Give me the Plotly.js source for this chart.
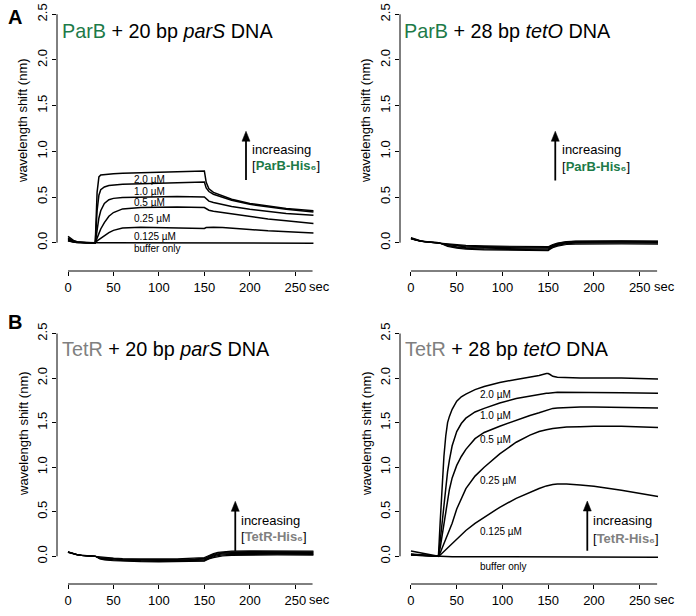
<!DOCTYPE html>
<html><head><meta charset="utf-8">
<script src="https://cdn.plot.ly/plotly-3.0.1.min.js"></script>
<style>html,body{margin:0;padding:0;background:#fff}</style>
</head><body><div id="chart" style="width:696px;height:616px"></div>
<script>
// ---------- data ----------
const concentrations = ["2.0 µM","1.0 µM","0.5 µM","0.25 µM","0.125 µM","buffer only"];
const xTickVals = [0,50,100,150,200,250];
const yTickVals = [0,0.5,1,1.5,2,2.5];
const yTickText = ["0.0","0.5","1.0","1.5","2.0","2.5"];

// Panel A left: ParB + 20 bp parS
const timeParBParS = [0,3,6,10,15,20,25,30,32,34,36,40,45,50,60,80,100,120,150,152,155,160,170,180,200,220,240,270];
const parBParS_2_0   = [0.07,0.042,0.025,0.01,0.003,0,0,0,0.55,0.72,0.74,0.745,0.75,0.755,0.76,0.765,0.77,0.775,0.785,0.66,0.59,0.55,0.51,0.475,0.43,0.40,0.375,0.35];
const parBParS_1_0   = [0.05,0.03,0.018,0.008,0.002,0,0,0,0.35,0.52,0.58,0.61,0.625,0.63,0.64,0.645,0.65,0.655,0.665,0.60,0.56,0.53,0.495,0.465,0.42,0.39,0.365,0.335];
const parBParS_0_5   = [0.04,0.024,0.014,0.006,0.002,0,0,0,0.15,0.27,0.35,0.43,0.47,0.485,0.495,0.50,0.505,0.505,0.50,0.48,0.455,0.44,0.415,0.395,0.365,0.34,0.32,0.30];
const parBParS_0_25  = [0.03,0.018,0.01,0.004,0.001,0,0,0,0.05,0.10,0.15,0.22,0.29,0.33,0.37,0.385,0.39,0.39,0.385,0.37,0.355,0.345,0.33,0.315,0.285,0.26,0.24,0.21];
const parBParS_0_125 = [0.02,0.012,0.007,0.003,0.001,0,0,0,0.02,0.035,0.05,0.08,0.11,0.135,0.16,0.17,0.165,0.16,0.155,0.165,0.17,0.17,0.165,0.16,0.145,0.13,0.12,0.105];
const parBParS_buf   = [0.02,0.012,0.007,0.003,0.001,0,0,0,0,0,0,0,0,0,0,0,0,0,0,-0.005,-0.005,-0.005,-0.005,-0.005,-0.005,-0.005,-0.005,-0.005];

// Panel A right: ParB + 28 bp tetO
const timeParBTetO = [0,5,10,15,20,25,30,35,40,50,60,80,100,120,140,150,152,155,160,165,170,180,200,230,270];
const parBTetO_2_0   = [0.055,0.035,0.022,0.013,0.008,0.004,0,-0.02,-0.04,-0.06,-0.07,-0.078,-0.082,-0.084,-0.085,-0.086,-0.072,-0.055,-0.038,-0.027,-0.02,-0.015,-0.013,-0.013,-0.015];
const parBTetO_1_0   = [0.05,0.032,0.02,0.012,0.007,0.003,0,-0.017,-0.034,-0.052,-0.062,-0.07,-0.074,-0.076,-0.077,-0.078,-0.065,-0.048,-0.03,-0.018,-0.01,-0.005,-0.003,-0.003,-0.005];
const parBTetO_0_5   = [0.05,0.03,0.019,0.011,0.006,0.003,0,-0.014,-0.028,-0.045,-0.054,-0.061,-0.065,-0.067,-0.068,-0.069,-0.057,-0.04,-0.022,-0.01,-0.002,0.003,0.005,0.005,0.003];
const parBTetO_0_25  = [0.045,0.028,0.018,0.01,0.006,0.002,0,-0.011,-0.022,-0.037,-0.046,-0.052,-0.055,-0.057,-0.058,-0.059,-0.048,-0.032,-0.015,-0.004,0.004,0.009,0.011,0.011,0.009];
const parBTetO_0_125 = [0.045,0.027,0.017,0.01,0.005,0.002,0,-0.008,-0.017,-0.03,-0.038,-0.044,-0.047,-0.049,-0.05,-0.051,-0.041,-0.026,-0.01,0.002,0.009,0.014,0.016,0.016,0.014];
const parBTetO_buf   = [0.04,0.025,0.016,0.009,0.005,0.002,0,-0.005,-0.012,-0.022,-0.03,-0.036,-0.04,-0.042,-0.043,-0.044,-0.035,-0.02,-0.005,0.007,0.013,0.018,0.02,0.02,0.018];

// Panel B left: TetR + 20 bp parS
const timeTetRParS = [0,5,10,15,20,25,30,35,40,50,60,80,100,120,140,150,152,155,160,165,170,180,200,230,270];
const tetRParS_2_0   = [0.05,0.032,0.02,0.012,0.007,0.003,0,-0.01,-0.015,-0.02,-0.025,-0.03,-0.03,-0.028,-0.022,-0.015,-0.005,0.01,0.03,0.045,0.052,0.058,0.06,0.06,0.058];
const tetRParS_1_0   = [0.05,0.031,0.019,0.011,0.006,0.003,0,-0.015,-0.02,-0.027,-0.032,-0.037,-0.038,-0.036,-0.03,-0.024,-0.014,0.002,0.022,0.037,0.044,0.05,0.052,0.052,0.05];
const tetRParS_0_5   = [0.048,0.03,0.018,0.01,0.006,0.002,0,-0.018,-0.025,-0.033,-0.038,-0.043,-0.045,-0.043,-0.038,-0.032,-0.022,-0.006,0.013,0.027,0.035,0.041,0.043,0.043,0.041];
const tetRParS_0_25  = [0.046,0.029,0.017,0.01,0.005,0.002,0,-0.021,-0.03,-0.039,-0.044,-0.049,-0.051,-0.05,-0.045,-0.04,-0.03,-0.014,0.004,0.018,0.026,0.031,0.033,0.033,0.031];
const tetRParS_0_125 = [0.045,0.028,0.017,0.009,0.005,0.002,0,-0.025,-0.035,-0.044,-0.05,-0.055,-0.057,-0.056,-0.052,-0.048,-0.038,-0.022,-0.005,0.008,0.016,0.021,0.024,0.024,0.022];
const tetRParS_buf   = [0.044,0.027,0.016,0.009,0.005,0.002,0,-0.03,-0.04,-0.05,-0.055,-0.06,-0.062,-0.062,-0.058,-0.055,-0.045,-0.03,-0.015,-0.005,0.005,0.01,0.015,0.015,0.012];

// Panel B right: TetR + 28 bp tetO
const timeTetRTetO = [0,5,10,15,20,25,30,32,34,36,38,40,42,45,50,55,60,70,80,97,115,130,140,148,150,152,155,160,170,185,200,230,270];
const tetRTetO_2_0   = [0.06,0.05,0.04,0.03,0.02,0.01,0,0.4,0.8,1.12,1.35,1.5,1.57,1.65,1.74,1.79,1.82,1.87,1.905,1.95,1.985,2.01,2.03,2.05,2.05,2.04,2.02,2.01,2.005,2.0,2.0,2.0,1.99];
const tetRTetO_1_0   = [0.025,0.021,0.017,0.012,0.008,0.004,0,0.18,0.38,0.58,0.78,0.95,1.08,1.24,1.40,1.49,1.55,1.62,1.66,1.72,1.77,1.80,1.82,1.83,1.83,1.83,1.835,1.84,1.84,1.84,1.84,1.835,1.83];
const tetRTetO_0_5   = [0.02,0.017,0.013,0.01,0.007,0.003,0,0.10,0.24,0.38,0.52,0.65,0.75,0.88,1.02,1.12,1.20,1.32,1.39,1.46,1.53,1.58,1.61,1.64,1.645,1.65,1.66,1.665,1.67,1.675,1.675,1.67,1.665];
const tetRTetO_0_25  = [0.02,0.016,0.012,0.009,0.006,0.003,0,0.04,0.09,0.14,0.19,0.24,0.29,0.37,0.53,0.65,0.76,0.90,1.00,1.15,1.28,1.36,1.40,1.42,1.425,1.43,1.435,1.44,1.45,1.455,1.46,1.46,1.445];
const tetRTetO_0_125 = [0.015,0.012,0.01,0.007,0.005,0.002,0,0.015,0.035,0.055,0.075,0.095,0.115,0.145,0.19,0.24,0.29,0.37,0.44,0.55,0.65,0.72,0.76,0.79,0.795,0.80,0.805,0.81,0.81,0.80,0.785,0.74,0.67];
const tetRTetO_buf   = [0.015,0.012,0.009,0.007,0.004,0.002,0,-0.005,-0.005,-0.005,-0.005,-0.005,-0.005,-0.005,-0.005,-0.005,-0.005,-0.005,-0.005,-0.005,-0.005,-0.005,-0.005,-0.005,-0.005,-0.01,-0.01,-0.01,-0.01,-0.01,-0.01,-0.01,-0.01];

// ---------- build ----------
const W = 696, H = 616;
const FONT = 'Arial, "Liberation Sans", Helvetica, sans-serif';
const GREEN = '#1c7a48', GREY = '#808080';
const fx = p => p / W;           // pixel -> paper x
const fy = p => 1 - p / H;       // pixel -> paper y

const panels = [
  {ax:'', time: timeParBParS, lw:1.5, series:[parBParS_2_0,parBParS_1_0,parBParS_0_5,parBParS_0_25,parBParS_0_125,parBParS_buf],
   xdom:[57,318], xr:[-12.1,275], ydom:[271,12], yr:[-0.31,2.525]},
  {ax:'2', time: timeParBTetO, lw:1.2, series:[parBTetO_2_0,parBTetO_1_0,parBTetO_0_5,parBTetO_0_25,parBTetO_0_125,parBTetO_buf],
   xdom:[400,662.6], xr:[-12.0,275], ydom:[271,12], yr:[-0.31,2.525]},
  {ax:'3', time: timeTetRParS, lw:1.2, series:[tetRParS_2_0,tetRParS_1_0,tetRParS_0_5,tetRParS_0_25,tetRParS_0_125,tetRParS_buf],
   xdom:[57,318], xr:[-12.1,275], ydom:[584,331.3], yr:[-0.311,2.525]},
  {ax:'4', time: timeTetRTetO, lw:1.5, series:[tetRTetO_2_0,tetRTetO_1_0,tetRTetO_0_5,tetRTetO_0_25,tetRTetO_0_125,tetRTetO_buf],
   xdom:[400,662.6], xr:[-12.0,275], ydom:[584,331.3], yr:[-0.311,2.525]}
];

const traces = [];
const layout = {
  width: W, height: H, margin:{l:0,r:0,t:0,b:0},
  paper_bgcolor:'#fff', plot_bgcolor:'rgba(0,0,0,0)',
  showlegend:false, font:{family:FONT, color:'#000'},
  shapes:[], annotations:[]
};

panels.forEach(p => {
  const xn = 'x' + p.ax, yn = 'y' + p.ax;
  p.series.forEach((s, i) => traces.push({
    x: p.time, y: s, xaxis: xn, yaxis: yn, type:'scatter', mode:'lines',
    name: concentrations[i], line:{color:'#000', width:p.lw}, hoverinfo:'skip'
  }));
  layout['xaxis' + p.ax] = {
    domain:[fx(p.xdom[0]), fx(p.xdom[1])], range:p.xr, anchor: yn,
    tickmode:'array', tickvals:xTickVals, ticks:'outside', ticklen:4, tickwidth:1, tickcolor:'#000',
    showline:false, showgrid:false, zeroline:false, tickfont:{size:13, family:FONT, color:'#000'}, fixedrange:true
  };
  layout['yaxis' + p.ax] = {
    domain:[fy(p.ydom[0]), fy(p.ydom[1])], range:p.yr, anchor: xn,
    tickmode:'array', tickvals:yTickVals, ticktext:yTickText, tickangle:-90,
    ticks:'outside', ticklen:4, tickwidth:1, tickcolor:'#000',
    showline:false, showgrid:false, zeroline:false, tickfont:{size:13, family:FONT, color:'#000'}, fixedrange:true
  };
  // R-style axis lines spanning only the tick range
  layout.shapes.push({type:'line', xref: xn + ' domain', yref: yn, x0:0, x1:0, y0:0, y1:2.5, line:{color:'#000', width:1}});
  layout.shapes.push({type:'line', xref: xn, yref: yn + ' domain', x0:0, x1:269, y0:0, y1:0, line:{color:'#000', width:1}});
  // "sec" after the last tick label
  layout.annotations.push({xref: xn, yref:'paper', x:250, y: fy(p.ydom[0] + 15), xanchor:'left', yanchor:'middle',
    xshift:12, text:'sec', showarrow:false, font:{size:13, family:FONT, color:'#000'}});
  // y axis title
  layout.annotations.push({xref:'paper', yref:'paper', x: fx(p.xdom[0] - 34), y: fy((p.ydom[0] === 271) ? 121 : 434),
    xanchor:'center', yanchor:'middle', textangle:-90, text:'wavelength shift (nm)', showarrow:false,
    font:{size:13, family:FONT, color:'#000'}});
});

// titles
const titleFont = {size:19.8, family:FONT, color:'#000'};
layout.annotations.push(
  {xref:'paper', yref:'paper', x:fx(60), y:fy(31), xanchor:'left', yanchor:'middle', showarrow:false, font:titleFont,
   text:'<span style="color:' + GREEN + '">ParB</span> + 20 bp <i>parS</i> DNA'},
  {xref:'paper', yref:'paper', x:fx(402), y:fy(31), xanchor:'left', yanchor:'middle', showarrow:false, font:titleFont,
   text:'<span style="color:' + GREEN + '">ParB</span> + 28 bp <i>tetO</i> DNA'},
  {xref:'paper', yref:'paper', x:fx(60), y:fy(349), xanchor:'left', yanchor:'middle', showarrow:false, font:titleFont,
   text:'<span style="color:' + GREY + '">TetR</span> + 20 bp <i>parS</i> DNA'},
  {xref:'paper', yref:'paper', x:fx(403), y:fy(349), xanchor:'left', yanchor:'middle', showarrow:false, font:titleFont,
   text:'<span style="color:' + GREY + '">TetR</span> + 28 bp <i>tetO</i> DNA'},
  {xref:'paper', yref:'paper', x:fx(15), y:fy(17), xanchor:'center', yanchor:'middle', showarrow:false,
   font:{size:20, family:FONT, color:'#000'}, text:'<b>A</b>'},
  {xref:'paper', yref:'paper', x:fx(15), y:fy(322), xanchor:'center', yanchor:'middle', showarrow:false,
   font:{size:20, family:FONT, color:'#000'}, text:'<b>B</b>'}
);

// concentration labels
const labelY_A = [0.694,0.558,0.438,0.26,0.073,-0.066];
const labelY_D = [1.82,1.58,1.31,0.85,0.28,-0.115];
concentrations.forEach((c, i) => {
  layout.annotations.push({xref:'x', yref:'y', x:70, y:labelY_A[i], xanchor:'left', yanchor:'middle', text:c,
    showarrow:false, font:{size:10, family:FONT, color:'#000'}});
  layout.annotations.push({xref:'x4', yref:'y4', x:73, y:labelY_D[i], xanchor:'left', yanchor:'middle', text:c,
    showarrow:false, font:{size:10, family:FONT, color:'#000'}});
});

// "increasing" arrows (shaft + pixel-sized arrowhead)
const incFont = {size:13, family:FONT, color:'#000'};
function incr(ax, xArrow, yTail, yTip, xText, yInc, yBr, protein, color) {
  const xn = 'x' + ax, yn = 'y' + ax;
  layout.shapes.push({type:'line', xref:xn, yref:yn, x0:xArrow, x1:xArrow, y0:yTail, y1:yTip - 0.05,
    line:{color:'#000', width:1.8}});
  layout.shapes.push({type:'path', xref:xn, yref:yn, xsizemode:'pixel', ysizemode:'pixel', xanchor:xArrow, yanchor:yTip,
    path:'M -4 -10 L 4 -10 L 0 0 Z', fillcolor:'#000', line:{color:'#000', width:0.5}});
  layout.annotations.push({xref:xn, yref:yn, x:xText, y:yInc, xanchor:'left', yanchor:'middle',
    text:'increasing', showarrow:false, font:incFont});
  layout.annotations.push({xref:xn, yref:yn, x:xText, y:yBr, xanchor:'left', yanchor:'middle',
    text:'[<b><span style="color:' + color + '">' + protein + '-His\u2086</span></b>]', showarrow:false, font:incFont});
}
incr('', 195.8, 0.685, 1.22, 200, 1.022, 0.84, 'ParB', GREEN);
incr('2', 157.7, 0.68, 1.22, 163, 1.022, 0.83, 'ParB', GREEN);
incr('3', 184, 0.06, 0.617, 188, 0.404, 0.224, 'TetR', GREY);
incr('4', 192.7, 0.063, 0.62, 197, 0.404, 0.205, 'TetR', GREY);

Plotly.newPlot('chart', traces, layout, {staticPlot:true, displayModeBar:false});
</script></body></html>
